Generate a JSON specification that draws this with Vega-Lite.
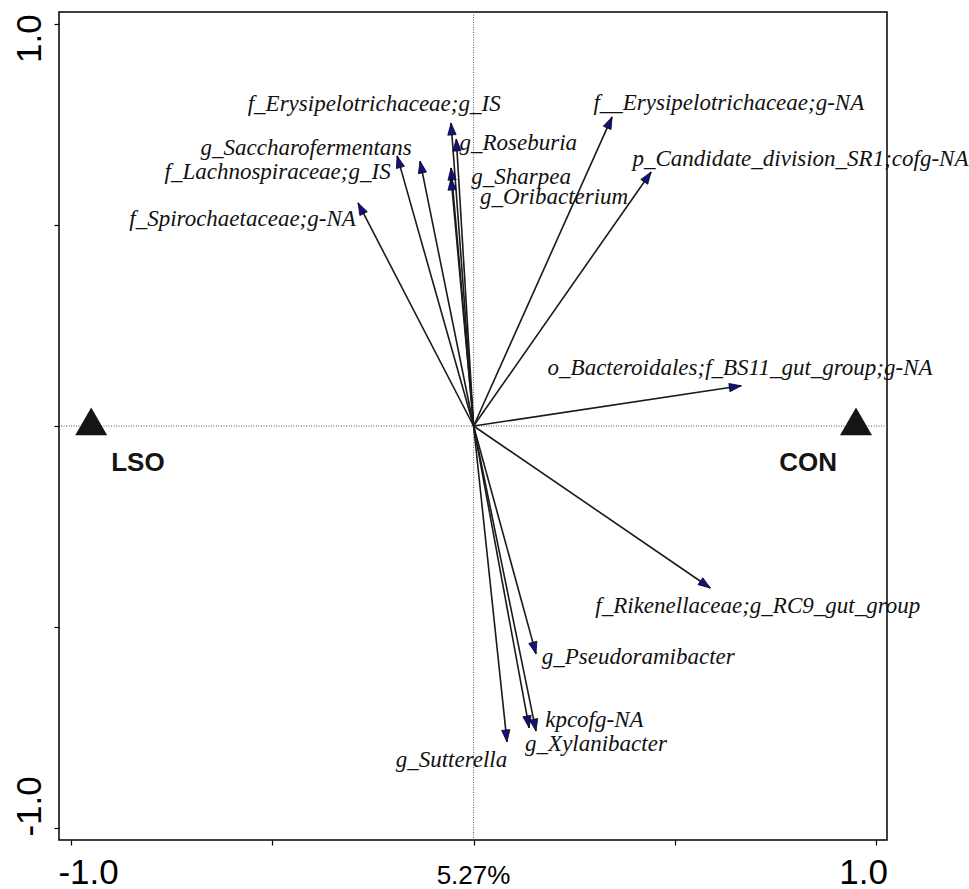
{
  "$schema": "https://vega.github.io/schema/vega-lite/v6.json",
  "width": 828,
  "height": 828,
  "autosize": {"type": "none"},
  "padding": {"left": 59, "top": 12, "right": 82, "bottom": 49},
  "background": "white",
  "config": {"view": {"stroke": "#000", "strokeWidth": 1.5}},
  "datasets": {
    "arrows": [
      {"name": "f_Erysipelotrichaceae;g_IS", "x": -0.056, "y": 0.754, "lx": -0.247, "ly": 0.801},
      {"name": "g_Roseburia", "x": -0.043, "y": 0.714, "lx": 0.111, "ly": 0.704},
      {"name": "g_Saccharofermentans", "x": -0.19, "y": 0.672, "lx": -0.416, "ly": 0.692},
      {"name": "f_Lachnospiraceae;g_IS", "x": -0.133, "y": 0.659, "lx": -0.487, "ly": 0.632},
      {"name": "g_Sharpea", "x": -0.056, "y": 0.642, "lx": 0.118, "ly": 0.619},
      {"name": "g_Oribacterium", "x": -0.056, "y": 0.617, "lx": 0.2, "ly": 0.57},
      {"name": "f_Spirochaetaceae;g-NA", "x": -0.287, "y": 0.555, "lx": -0.574, "ly": 0.515},
      {"name": "f__Erysipelotrichaceae;g-NA", "x": 0.344, "y": 0.769, "lx": 0.634, "ly": 0.803},
      {"name": "p_Candidate_division_SR1;cofg-NA", "x": 0.441, "y": 0.632, "lx": 0.812, "ly": 0.664},
      {"name": "o_Bacteroidales;f_BS11_gut_group;g-NA", "x": 0.665, "y": 0.1, "lx": 0.662, "ly": 0.144},
      {"name": "f_Rikenellaceae;g_RC9_gut_group", "x": 0.588, "y": -0.403, "lx": 0.706, "ly": -0.448},
      {"name": "g_Pseudoramibacter", "x": 0.155, "y": -0.567, "lx": 0.409, "ly": -0.575},
      {"name": "kpcofg-NA", "x": 0.138, "y": -0.751, "lx": 0.3, "ly": -0.731},
      {"name": "g_Xylanibacter", "x": 0.155, "y": -0.759, "lx": 0.304, "ly": -0.791},
      {"name": "g_Sutterella", "x": 0.083, "y": -0.786, "lx": -0.055, "ly": -0.831}
    ],
    "sites": [
      {"site": "LSO", "x": -0.95, "y": 0},
      {"site": "CON", "x": 0.95, "y": 0}
    ]
  },
  "layer": [
    {
      "data": {"values": [{"v": 0}]},
      "mark": {"type": "rule", "color": "#555", "strokeWidth": 1, "strokeDash": [1, 1.5]},
      "encoding": {
        "x": {"datum": 0, "type": "quantitative", "scale": {"domain": [-1.03, 1.027], "nice": false, "zero": false},
          "title": "5.27%",
          "axis": {
            "values": [-1, -0.5, 0, 0.5, 1],
            "labelExpr": "datum.value == 1 ? '1.0' : datum.value == -1 ? '-1.0' : ''",
            "labelFont": "Liberation Sans", "labelFontSize": 35, "labelColor": "#000",
            "labelOffset": {"condition": {"test": "datum.value < 0", "value": 17}, "value": -13},
            "labelPadding": 10, "labelFlush": false, "labelOverlap": false, "labelBaseline": "top",
            "tickSize": 5, "tickColor": "#000", "tickWidth": 1.2,
            "domain": false, "grid": false,
            "titleFont": "Liberation Sans", "titleFontSize": 26, "titleFontWeight": "normal", "titleColor": "#000",
            "titleY": 43, "titleBaseline": "alphabetic"
          }
        }
      }
    },
    {
      "data": {"values": [{"v": 0}]},
      "mark": {"type": "rule", "color": "#555", "strokeWidth": 1, "strokeDash": [1, 1.5]},
      "encoding": {
        "y": {"datum": 0, "type": "quantitative", "scale": {"domain": [-1.03, 1.03], "nice": false, "zero": false},
          "title": null,
          "axis": {
            "values": [-1, -0.5, 0, 0.5, 1],
            "labelExpr": "datum.value == 1 ? '1.0' : datum.value == -1 ? '-1.0' : ''",
            "labelFont": "Liberation Sans", "labelFontSize": 35, "labelColor": "#000",
            "labelAngle": -90, "labelAlign": "center", "labelBaseline": "alphabetic",
            "labelOffset": {"condition": {"test": "datum.value > 0", "value": 14}, "value": -22},
            "labelPadding": 14, "labelFlush": false, "labelOverlap": false,
            "tickSize": 5, "tickColor": "#000", "tickWidth": 1.2,
            "domain": false, "grid": false
          }
        }
      }
    },
    {
      "data": {"name": "arrows"},
      "mark": {"type": "rule", "color": "#1a1a1a", "strokeWidth": 1.6},
      "encoding": {
        "x": {"field": "x", "type": "quantitative", "title": "5.27%"},
        "y": {"field": "y", "type": "quantitative", "title": null},
        "x2": {"datum": 0},
        "y2": {"datum": 0}
      }
    },
    {
      "data": {"name": "arrows"},
      "mark": {"type": "point", "filled": true, "shape": "M0,0L-0.35,1L0.35,1Z", "size": 576,
        "fill": "#12127e", "stroke": "#000", "strokeWidth": 0.7, "opacity": 1,
        "angle": {"expr": "atan2(datum.x, datum.y) * 180 / PI"}},
      "encoding": {
        "x": {"field": "x", "type": "quantitative", "title": "5.27%"},
        "y": {"field": "y", "type": "quantitative", "title": null}
      }
    },
    {
      "data": {"name": "arrows"},
      "mark": {"type": "text", "font": "Liberation Serif", "fontStyle": "italic", "fontSize": 23,
        "align": "center", "baseline": "middle", "color": "#111"},
      "encoding": {
        "x": {"field": "lx", "type": "quantitative", "title": "5.27%"},
        "y": {"field": "ly", "type": "quantitative", "title": null},
        "text": {"field": "name"}
      }
    },
    {
      "data": {"name": "sites"},
      "mark": {"type": "point", "filled": true, "shape": "M0,-1.155L1,0.577L-1,0.577Z", "size": 1024,
        "color": "#151515", "opacity": 1},
      "encoding": {
        "x": {"field": "x", "type": "quantitative", "title": "5.27%"},
        "y": {"field": "y", "type": "quantitative", "title": null}
      }
    },
    {
      "data": {"name": "sites"},
      "transform": [{"filter": "datum.site == 'LSO'"}],
      "mark": {"type": "text", "font": "Liberation Sans", "fontWeight": "bold", "fontSize": 26,
        "align": "left", "baseline": "alphabetic", "dx": 20, "dy": 45, "color": "#151515"},
      "encoding": {
        "x": {"field": "x", "type": "quantitative", "title": "5.27%"},
        "y": {"field": "y", "type": "quantitative", "title": null},
        "text": {"field": "site"}
      }
    },
    {
      "data": {"name": "sites"},
      "transform": [{"filter": "datum.site == 'CON'"}],
      "mark": {"type": "text", "font": "Liberation Sans", "fontWeight": "bold", "fontSize": 26,
        "align": "right", "baseline": "alphabetic", "dx": -19, "dy": 45, "color": "#151515"},
      "encoding": {
        "x": {"field": "x", "type": "quantitative", "title": "5.27%"},
        "y": {"field": "y", "type": "quantitative", "title": null},
        "text": {"field": "site"}
      }
    }
  ]
}
